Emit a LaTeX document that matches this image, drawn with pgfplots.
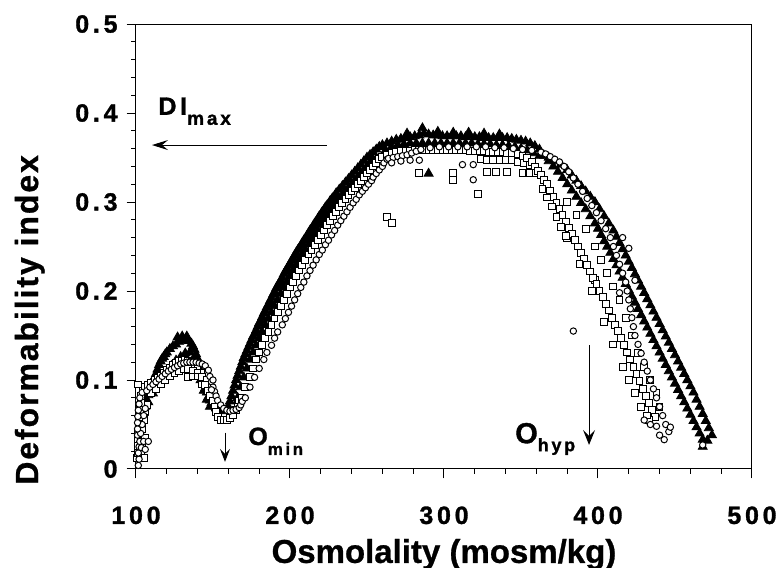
\documentclass[border=0pt]{standalone}
\usepackage{fontspec}
\setmainfont{Liberation Sans}
\newfontface\spaced{Liberation Sans Bold}[LetterSpace=15,FakeBold=1.2]
\newfontface\lblfont{Liberation Sans Bold}[LetterSpace=6,FakeBold=0.8]
\newfontface\xlblfont{Liberation Sans Bold}[FakeBold=0.8]
\usepackage{pgfplots}
\pgfplotsset{compat=1.18}
\usetikzlibrary{arrows.meta}

\begin{document}
\begin{tikzpicture}
\path[use as bounding box] (-68pt,-49.5pt) rectangle (324pt,234.5pt);
\begin{axis}[
  scale only axis,
  width=308pt,
  height=222.5pt,
  xmin=100,xmax=500,
  ymin=0,ymax=0.5,
  xtick={100,200,300,400,500},
  ytick={0,0.1,0.2,0.3,0.4,0.5},
  minor x tick num=4,
  minor y tick num=4,
  tick align=outside,
  tick pos=left,
  major tick length=4.7pt,
  minor tick length=2.3pt,
  axis line style={line width=0.5pt},
  tick style={line width=0.5pt,black},
  /pgf/number format/assume math mode=true,
  ticklabel style={font=\spaced\fontsize{12.5}{14}\selectfont},
  xticklabel style={yshift=-10.5pt},
  yticklabel style={xshift=-1pt},
  xlabel={Osmolality (mosm/kg)},
  ylabel={Deformability index},
  xlabel style={at={(axis description cs:0.5,-0.211)},anchor=base,font=\xlblfont\fontsize{16.5}{18}\selectfont},
  ylabel style={at={(axis description cs:-0.159,0.335)},anchor=base,font=\lblfont\fontsize{16}{18}\selectfont},
  clip=false,
  every axis plot/.append style={only marks},
]
% filled triangles
\addplot[mark=triangle*,mark size=2.6pt,mark options={fill=black,draw=black}] coordinates {
(102,0.03) (103,0.037) (103,0.045) (104,0.055) (105,0.063) (106,0.07) (107,0.077) (108,0.083) (109,0.089) (110,0.094)
(111,0.099) (112,0.103) (113,0.107) (114,0.112) (115,0.117) (116,0.121) (117,0.124) (118,0.126) (119,0.129) (120,0.131)
(122,0.135) (124,0.138) (126,0.14) (128,0.143) (130,0.145) (132,0.145) (134,0.144) (136,0.141) (137,0.138) (138,0.134)
(139,0.129) (140,0.124) (141,0.117) (142,0.11) (143,0.103) (144,0.097) (145,0.091) (146,0.086) (147,0.081) (148,0.077)
(149,0.074) (150,0.072) (152,0.068) (154,0.066) (156,0.065) (158,0.066) (160,0.07)
(127,0.148) (130,0.149) (133,0.149)
(108,0.075) (111,0.085) (114,0.095) (117,0.103) (120,0.11) (123,0.116) (126,0.122) (129,0.126) (132,0.13) (135,0.131)
(138,0.125) (140,0.115) (142,0.1) (144,0.088) (146,0.078) (148,0.07)
(161,0.076) (162,0.082) (163,0.088) (164,0.094) (165,0.1) (166,0.105) (167,0.11) (168,0.115) (169,0.12) (170,0.125)
(171,0.129) (172,0.133) (173,0.137) (174,0.141) (175,0.145) (176,0.149) (177,0.152) (178,0.156) (179,0.16) (180,0.164)
(181,0.167) (182,0.171) (183,0.175) (184,0.178) (185,0.182) (186,0.185) (187,0.189) (188,0.192) (189,0.196) (190,0.199)
(191,0.203) (192,0.206) (193,0.209) (194,0.212) (195,0.215) (196,0.219) (197,0.222) (198,0.225) (199,0.228) (200,0.231)
(201,0.234) (202,0.237) (203,0.24) (204,0.243) (205,0.246) (206,0.248) (207,0.251) (208,0.254) (209,0.257) (210,0.259)
(211,0.262) (212,0.265) (213,0.268) (214,0.27) (215,0.273) (216,0.276) (217,0.278) (218,0.281) (219,0.284) (220,0.286)
(221,0.289) (222,0.291) (223,0.294) (224,0.296) (225,0.298) (226,0.301) (227,0.303) (228,0.305) (229,0.307) (230,0.31)
(232,0.314) (234,0.318) (236,0.322) (238,0.326) (240,0.33) (242,0.334) (244,0.338) (246,0.342) (248,0.346) (250,0.35)
(252,0.353) (254,0.356) (256,0.359) (258,0.362) (260,0.364)
(166,0.08) (168,0.092) (170,0.103) (172,0.113) (174,0.123) (176,0.131) (178,0.139) (180,0.147) (182,0.154) (184,0.162)
(186,0.169) (188,0.176) (190,0.183) (192,0.19) (194,0.197) (196,0.204) (198,0.21) (200,0.217) (202,0.223) (204,0.229)
(206,0.235) (208,0.241) (210,0.246) (212,0.252) (214,0.257) (216,0.263) (218,0.268) (220,0.274) (222,0.279) (224,0.284)
(226,0.289) (228,0.294) (230,0.299) (232,0.303) (234,0.308) (236,0.312) (238,0.316) (240,0.32) (242,0.324) (244,0.328)
(246,0.332) (248,0.336) (250,0.34) (252,0.344) (254,0.348)
(263,0.366) (266,0.368) (269,0.37) (272,0.371) (275,0.372) (278,0.373) (281,0.374) (284,0.375) (287,0.377) (290,0.376)
(293,0.375) (296,0.375) (299,0.374) (302,0.374) (305,0.374) (308,0.374) (311,0.374) (314,0.373) (317,0.374) (320,0.373)
(323,0.373) (326,0.372) (329,0.372) (332,0.372) (335,0.372) (338,0.372) (341,0.372) (344,0.371) (347,0.37) (350,0.369)
(353,0.368) (356,0.366) (359,0.363) (362,0.359)
(262,0.358) (266,0.362) (270,0.364) (274,0.365) (278,0.366) (282,0.366) (286,0.366) (290,0.366) (294,0.366) (298,0.366)
(302,0.366) (306,0.366) (310,0.366) (314,0.366) (318,0.366) (322,0.365) (326,0.365) (330,0.365) (334,0.364) (338,0.364)
(342,0.363) (346,0.362) (350,0.36) (354,0.358) (358,0.355) (362,0.352)
(276,0.377) (286,0.383) (296,0.379) (306,0.378) (316,0.378) (326,0.377) (336,0.376)
(290,0.332)
(365,0.352) (368,0.346) (371,0.34) (374,0.334) (377,0.327) (380,0.32) (383,0.313) (386,0.306) (389,0.299) (392,0.292)
(395,0.284) (398,0.276) (400,0.27) (402,0.263) (404,0.256) (406,0.25) (408,0.243) (410,0.236) (412,0.229) (414,0.222)
(416,0.215) (418,0.208) (420,0.201) (422,0.194) (424,0.187) (426,0.18) (428,0.173) (430,0.166) (432,0.159) (434,0.152)
(436,0.145) (438,0.138) (440,0.131) (442,0.124) (444,0.117) (446,0.11) (448,0.103) (450,0.096) (452,0.089) (454,0.082)
(456,0.075) (458,0.068) (460,0.061) (462,0.054) (464,0.047) (466,0.04) (468,0.033) (468,0.025)
(368,0.35) (372,0.346) (376,0.342) (380,0.336) (383,0.33) (386,0.324) (389,0.318) (392,0.312) (395,0.306) (398,0.3)
(401,0.292) (404,0.284) (407,0.276) (410,0.268) (412,0.261) (414,0.254) (416,0.247) (418,0.24) (420,0.233) (422,0.226)
(424,0.219) (426,0.212) (428,0.205) (430,0.198) (432,0.191) (434,0.184) (436,0.177) (438,0.17) (440,0.163) (442,0.156)
(444,0.149) (446,0.142) (448,0.135) (450,0.128) (452,0.121) (454,0.114) (456,0.107) (458,0.1) (460,0.093) (462,0.086)
(464,0.078) (466,0.07) (468,0.062) (470,0.054) (472,0.046) (474,0.038) (471,0.032)
};
% open squares
\addplot[mark=square*,mark size=1.7pt,mark options={fill=white,draw=black,line width=0.5pt}] coordinates {
(100.6,0.012) (101.5,0.018) (103.5,0.018) (105.5,0.012) (101,0.026) (104,0.028) (106,0.035) (101,0.034) (101.5,0.042)
(104,0.045) (102,0.05) (105,0.055) (102,0.058) (106,0.065) (102.5,0.066) (107,0.072) (103,0.074) (103,0.082)
(104.5,0.089) (101.5,0.095)
(106,0.092) (108,0.094) (110,0.097) (112,0.1) (114,0.102) (116,0.105) (118,0.108) (120,0.111) (122,0.114) (124,0.117)
(126,0.119) (128,0.121) (130,0.122) (132,0.123) (134,0.122) (136,0.12) (138,0.117) (140,0.113) (142,0.108)
(110,0.085) (113,0.09) (116,0.095) (119,0.1) (122,0.104) (125,0.108) (128,0.11) (131,0.112) (134,0.112) (137,0.11)
(140,0.108) (143,0.095)
(134,0.103) (137,0.104) (140,0.104) (143,0.103) (146,0.1) (145,0.094) (147,0.088) (148,0.082) (150,0.076) (151,0.07)
(152,0.064) (153,0.058) (155,0.055) (157,0.055) (159,0.055) (161,0.057) (163,0.061) (165,0.066) (166,0.072) (167,0.077)
(169,0.08) (171,0.092) (174,0.103) (176,0.113) (178,0.123) (180,0.131) (182,0.139) (184,0.147) (186,0.154) (188,0.162)
(190,0.169) (192,0.176) (194,0.183) (196,0.19) (198,0.197) (200,0.204) (202,0.21) (204,0.217) (206,0.223) (208,0.229)
(210,0.235) (212,0.241) (214,0.246) (216,0.252) (218,0.257) (220,0.263) (222,0.268) (224,0.274) (226,0.279) (228,0.284)
(230,0.289) (232,0.294) (234,0.299) (236,0.303) (238,0.308) (240,0.312) (242,0.316) (244,0.32) (246,0.324) (248,0.328)
(250,0.332) (252,0.336) (254,0.34) (256,0.344) (258,0.348)
(260,0.351) (263,0.353) (266,0.355) (269,0.356) (272,0.357) (275,0.357) (278,0.357) (281,0.358) (284,0.358) (287,0.358)
(290,0.358) (293,0.358) (296,0.358) (299,0.358) (302,0.358) (305,0.358) (308,0.358) (311,0.358) (314,0.358) (317,0.357)
(320,0.357) (323,0.357) (326,0.357) (329,0.356) (332,0.356) (335,0.356) (338,0.356) (341,0.355) (344,0.355)
(324,0.348) (328,0.347) (332,0.347) (336,0.347) (340,0.347) (344,0.347) (348,0.345) (352,0.344) (356,0.342)
(263,0.283) (266,0.276) (284,0.333) (306,0.333) (306,0.325) (322,0.309) (328,0.334) (334,0.334) (341,0.334) (351,0.333)
(356,0.333) (360,0.333) (380,0.26) (398,0.212)
(348,0.354) (351,0.352) (354,0.349) (357,0.345) (359,0.34) (361,0.335) (363,0.33) (365,0.325) (367,0.32) (369,0.313)
(371,0.306) (373,0.299) (375,0.292) (377,0.285) (379,0.278) (381,0.271) (383,0.264) (385,0.257) (387,0.25) (389,0.243)
(391,0.236) (393,0.229) (395,0.222) (397,0.215) (399,0.208) (401,0.2) (403,0.193) (405,0.185) (407,0.178) (409,0.17)
(411,0.162) (413,0.155) (415,0.147) (417,0.139) (419,0.131) (421,0.123) (423,0.115) (425,0.107) (427,0.099) (429,0.09)
(431,0.082) (433,0.074) (435,0.066) (437,0.058)
(380,0.3) (386,0.285) (392,0.27) (398,0.25) (402,0.235) (406,0.22) (410,0.205) (414,0.19) (418,0.17) (422,0.15)
(426,0.13) (430,0.115) (434,0.1) (438,0.085) (440,0.07) (433,0.055)
(364,0.315) (367,0.305) (370,0.295) (373,0.283) (376,0.272) (379,0.262) (388,0.23) (396,0.2) (404,0.165) (410,0.14)
(416,0.115) (420,0.1) (424,0.085) (428,0.07) (432,0.06)
};
% open circles
\addplot[mark=*,mark size=1.6pt,mark options={fill=white,draw=black,line width=0.5pt}] coordinates {
(101.5,0.004) (102,0.011) (101.5,0.018) (102,0.025) (102.5,0.031) (105,0.031) (108,0.031) (103.5,0.024) (106,0.022)
(101,0.038) (103,0.04) (101,0.045) (104,0.05) (101,0.052) (105,0.06) (101.2,0.059) (106,0.068) (101.5,0.066) (102,0.073)
(102.5,0.08) (104,0.086)
(107,0.088) (109,0.092) (111,0.095) (113,0.098) (115,0.101) (117,0.104) (119,0.107) (121,0.11) (123,0.112) (125,0.114)
(127,0.116) (129,0.118) (131,0.119) (133,0.12) (135,0.12) (137,0.12) (139,0.12) (141,0.119) (143,0.118) (145,0.116)
(147,0.111) (148,0.104) (149,0.098) (150,0.092) (151,0.087) (152,0.082) (153,0.077) (155,0.072) (157,0.068) (159,0.066)
(161,0.065) (163,0.066) (165,0.067) (167,0.069) (168,0.072) (169,0.076) (150,0.1) (149,0.089)
(171,0.08) (174,0.092) (177,0.103) (180,0.113) (183,0.123) (185,0.131) (188,0.139) (190,0.147) (192,0.154) (195,0.162)
(197,0.169) (199,0.176) (201,0.183) (203,0.19) (205,0.197) (207,0.204) (209,0.21) (211,0.217) (213,0.223) (215,0.229)
(217,0.235) (219,0.241) (221,0.246) (223,0.252) (225,0.257) (227,0.263) (229,0.268) (231,0.274) (233,0.279) (235,0.284)
(237,0.289) (239,0.294) (241,0.299) (243,0.303) (245,0.308) (247,0.312) (249,0.316) (251,0.32) (253,0.324) (254,0.328)
(256,0.332) (258,0.336) (260,0.34) (261,0.344) (263,0.348)
(264,0.349) (267,0.35) (270,0.351) (273,0.352) (276,0.353) (279,0.355) (282,0.357) (285,0.359) (291,0.361) (297,0.362)
(303,0.362) (309,0.362) (315,0.362) (321,0.362) (327,0.362) (333,0.361) (339,0.361) (345,0.36) (351,0.359) (357,0.358)
(266,0.344) (272,0.346) (278,0.347) (284,0.347)
(312,0.342) (319,0.342) (319,0.325) (384,0.155)
(363,0.356) (366,0.354) (369,0.351) (372,0.348) (375,0.345) (378,0.34) (381,0.334) (384,0.327) (387,0.32) (390,0.312)
(393,0.304) (396,0.296) (399,0.288) (402,0.279) (405,0.27) (408,0.26) (410,0.25) (412,0.24) (414,0.23) (416,0.22)
(418,0.21) (419,0.2) (420,0.19) (421,0.18) (422,0.17) (423,0.16) (424,0.15) (426,0.14) (428,0.13) (430,0.12)
(432,0.11) (434,0.1) (436,0.09) (438,0.08) (440,0.07) (442,0.06) (444,0.05) (446,0.042) (443,0.033)
(416,0.26) (420,0.248) (424,0.212) (414,0.198) (430,0.055) (434,0.05) (438,0.048) (447,0.047) (440,0.038) (468,0.027)
};
% annotations
\draw[-{Stealth[length=8pt,width=5pt,inset=3pt]},line width=0.5pt] (axis cs:224,0.364) -- (axis cs:110.4,0.364);
\draw[-{Stealth[length=6.5pt,width=5pt,inset=2.5pt]},line width=0.5pt] (axis cs:157.8,0.041) -- (axis cs:157.8,0.008);
\draw[-{Stealth[length=7.5pt,width=6pt,inset=3pt]},line width=0.5pt] (axis cs:394.2,0.139) -- (axis cs:394.2,0.027);
\node[anchor=base west,inner sep=0pt,font=\spaced\fontsize{12.5}{14}\selectfont] at (axis cs:114.3,0.398)
  {DI\raisebox{-5pt}{\fontsize{9.5}{10}\selectfont max}};
\node[anchor=base west,inner sep=0pt,font=\spaced\fontsize{12.5}{14}\selectfont] at (axis cs:172.7,0.027)
  {O\raisebox{-5pt}{\fontsize{8.5}{10}\selectfont min}};
\node[anchor=base west,inner sep=0pt,font=\spaced\fontsize{14.5}{16}\selectfont] at (axis cs:346,0.029)
  {O\raisebox{-4pt}{\fontsize{9}{10}\selectfont hyp}};
\end{axis}
\end{tikzpicture}
\end{document}
